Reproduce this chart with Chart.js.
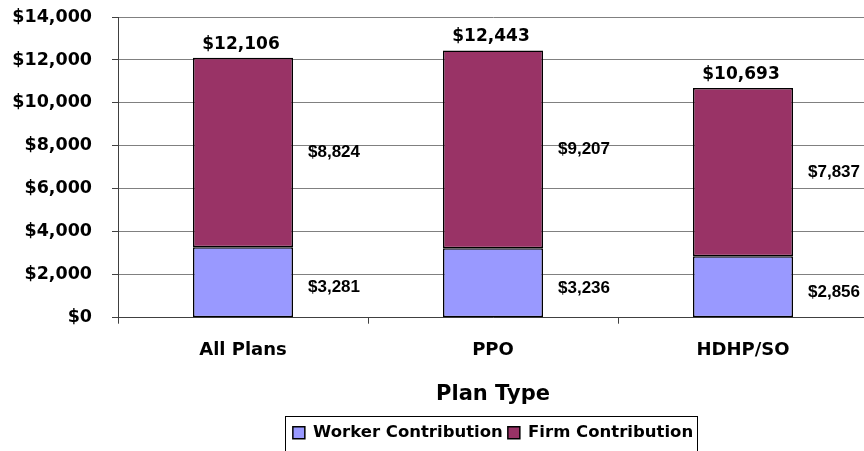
<!DOCTYPE html>
<html>
<head>
<meta charset="utf-8">
<script src="https://cdn.jsdelivr.net/npm/chart.js@4.4.0/dist/chart.umd.min.js"></script>
<style>
 body{margin:0;background:#fff;overflow:hidden}
 #wrap{width:868px;height:451px}
</style>
</head>
<body>
<div id="wrap"><canvas id="mychart"></canvas></div>
<script>
var planTypes = ["All Plans", "PPO", "HDHP/SO"]
var worker = [3281, 3236, 2856]
var firm = [8824, 9207, 7837]
var totals = [12106, 12443, 10693]
var yTicks = [0, 2000, 4000, 6000, 8000, 10000, 12000, 14000]

function money(v){ return "$" + Number(v).toLocaleString("en-US") }

// value labels: totals on top, segment values right of each bar
var barLabels = {
	id: "barLabels",
	afterDatasetsDraw(chart){
		var ctx = chart.ctx
		var y = chart.scales.y
		ctx.save()
		ctx.fillStyle = "#000"
		chart.getDatasetMeta(0).data.forEach((bar, i)=>{
			var right = bar.x + bar.width/2
			ctx.font = "bold 17px 'Liberation Sans', Arial"
			ctx.textAlign = "left"
			ctx.textBaseline = "middle"
			ctx.fillText(money(worker[i]), right + 15, y.getPixelForValue(worker[i]/2) + 5)
			ctx.fillText(money(firm[i]), right + 15, y.getPixelForValue(worker[i] + firm[i]/2))
			ctx.font = "bold 17px 'DejaVu Sans'"
			ctx.textAlign = "center"
			ctx.textBaseline = "alphabetic"
			ctx.fillText(money(totals[i]), bar.x - 2, y.getPixelForValue(totals[i]) - 9)
		})
		ctx.restore()
	}
}

// border round the legend
var legendBox = {
	id: "legendBox",
	afterDraw(chart){
		var hb = chart.legend.legendHitBoxes
		if (!hb || !hb.length) return
		var first = hb[0], last = hb[hb.length-1]
		var ctx = chart.ctx
		ctx.save()
		ctx.strokeStyle = "#000"
		ctx.lineWidth = 1
		ctx.strokeRect(Math.round(first.left - 8) + 0.5, Math.round(first.top - 9) + 0.5,
			Math.round(last.left + last.width - first.left + 12), 80)
		ctx.restore()
	}
}

var bold = {family: "'DejaVu Sans'", weight: "bold"}

var chart = new Chart(document.getElementById("mychart"), {
	type: "bar",
	data: {
		labels: planTypes,
		datasets: [
			{
				label: "Worker Contribution",
				data: worker,
				backgroundColor: "#9999FF",
				borderColor: "#000",
				borderWidth: 1.5,
				borderSkipped: false,
				barPercentage: 0.4,
				categoryPercentage: 1
			},
			{
				label: "Firm Contribution",
				data: firm,
				backgroundColor: "#993366",
				borderColor: "#000",
				borderWidth: 1.5,
				borderSkipped: false,
				barPercentage: 0.4,
				categoryPercentage: 1
			}
		]
	},
	options: {
		responsive: true,
		maintainAspectRatio: false,
		animation: false,
		devicePixelRatio: 1,
		layout: {padding: {left: 0, top: 17, right: 0, bottom: 0}},
		plugins: {
			tooltip: {enabled: false},
			legend: {
				position: "bottom",
				fullSize: false,
				labels: {
					boxWidth: 12,
					boxHeight: 12,
					padding: 5,
					color: "#000",
					font: Object.assign({size: 16.5}, bold)
				}
			}
		},
		scales: {
			x: {
				stacked: true,
				border: {color: "#404040", width: 1},
				grid: {drawOnChartArea: false, tickLength: 6, tickColor: "#404040"},
				ticks: {color: "#000", padding: 16, font: Object.assign({size: 18}, bold)},
				title: {
					display: true,
					text: "Plan Type",
					color: "#000",
					font: Object.assign({size: 21}, bold),
					padding: {top: 5, bottom: 12}
				}
			},
			y: {
				stacked: true,
				min: 0,
				max: 14000,
				afterBuildTicks: s => { s.ticks = yTicks.map(v => ({value: v})) },
				afterFit: s => { s.width = 118; s.paddingTop = 10; s.paddingBottom = 10 },
				border: {color: "#404040", width: 1},
				grid: {color: "#808080", lineWidth: 1, tickLength: 6, tickColor: "#404040"},
				ticks: {
					color: "#000",
					padding: 20,
					font: Object.assign({size: 17.5}, bold),
					callback: v => money(v)
				}
			}
		}
	},
	plugins: [barLabels, legendBox]
})
</script>
</body>
</html>
